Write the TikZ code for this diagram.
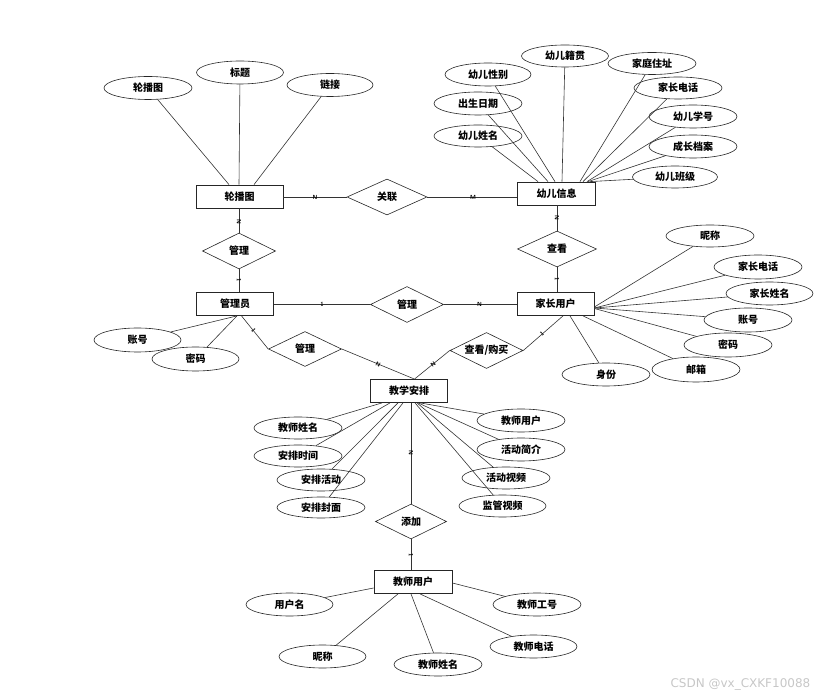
\documentclass[tikz,border=0pt]{standalone}
\usepackage{fontspec}
\newfontfamily\cjk{Noto Sans CJK SC}
\newfontfamily\wmfont{DejaVu Sans}
\usetikzlibrary{shapes.geometric}
\begin{document}
\begin{tikzpicture}[x=1pt,y=-1pt,
  every node/.style={font=\cjk\bfseries\fontsize{10}{11}\selectfont, text=black},
  ent/.style={draw=black!85, line width=0.8pt, minimum width=78pt, minimum height=23pt, inner sep=0pt},
  attr/.style={ellipse, draw=black!85, line width=0.6pt, minimum width=88pt, minimum height=23pt, inner sep=0pt},
  rel/.style={diamond, draw=black!85, line width=0.6pt, minimum width=73pt, minimum height=36pt, inner sep=0pt, aspect=2},
  lnk/.style={draw=black!80, line width=0.6pt},
  card/.style={font=\sffamily\bfseries\fontsize{6}{6}\selectfont, inner sep=0pt, sloped},
  wm/.style={font=\wmfont\fontsize{12}{13}\selectfont, text=black!22}
]
\useasboundingbox (0,0) rectangle (828,700);

% entities
\node[ent, minimum width=87pt] (lbt) at (239.5,196.5) {轮播图};
\node[ent] (yx) at (556.5,193.5) {幼儿信息};
\node[ent, minimum width=77pt] (gly) at (235,304) {管理员};
\node[ent, minimum width=77pt] (jz) at (555.5,304) {家长用户};
\node[ent, minimum width=77pt] (jxap) at (409,391) {教学安排};
\node[ent] (jsyh) at (413,582) {教师用户};

% relationships
\node[rel, minimum width=80pt] (gl) at (387,197) {关联};
\node[rel] (gl1) at (239,251) {管理};
\node[rel, minimum width=79pt] (ck) at (557,249) {查看};
\node[rel] (gl2) at (407,304.5) {管理};
\node[rel, minimum height=35pt] (gl3) at (305,349) {管理};
\node[rel] (ckgm) at (486.5,350.5) {查看/购买};
\node[rel, minimum width=71pt, minimum height=35pt] (tj) at (411,521.5) {添加};

% attributes of 轮播图
\node[attr] (lb) at (148,88) {轮播图};
\node[attr, minimum width=87pt] (bt) at (240,72.5) {标题};
\node[attr, minimum width=86pt] (lj) at (330,85) {链接};

% attributes of 幼儿信息
\node[attr, minimum width=87pt, minimum height=22pt] (yxjg) at (565,56) {幼儿籍贯};
\node[attr, minimum height=22pt] (jtzz) at (652,63.5) {家庭住址};
\node[attr, minimum height=22pt] (jzdh1) at (678,88) {家长电话};
\node[attr] (yxxh) at (693,116.5) {幼儿学号};
\node[attr] (czda) at (693,146.5) {成长档案};
\node[attr, minimum width=85pt, minimum height=22pt] (yxbj) at (675,177) {幼儿班级};
\node[attr, minimum width=86pt] (yxxb) at (488,74.5) {幼儿性别};
\node[attr] (csrq) at (478,103.5) {出生日期};
\node[attr, minimum height=22pt] (yxxm) at (478,136) {幼儿姓名};

% attributes of 家长用户
\node[attr, minimum height=22pt] (nc1) at (710,236) {昵称};
\node[attr, minimum height=24pt] (jzdh2) at (758,267) {家长电话};
\node[attr, minimum width=87pt] (jzxm) at (769.5,293.5) {家长姓名};
\node[attr, minimum height=24pt] (zh1) at (748,320) {账号};
\node[attr, minimum height=24pt] (mm1) at (728,345) {密码};
\node[attr, minimum height=25pt] (yx1) at (696,369.5) {邮箱};
\node[attr] (sf) at (606,374.5) {身份};

% attributes of 管理员
\node[attr, minimum width=87pt, minimum height=24pt] (zh2) at (137.5,340) {账号};
\node[attr, minimum width=87pt, minimum height=24pt] (mm2) at (195.5,359) {密码};

% attributes of 教学安排
\node[attr, minimum height=22pt] (jsxm1) at (298,428) {教师姓名};
\node[attr, minimum height=22pt] (apsj) at (298,456) {安排时间};
\node[attr, minimum height=22pt] (aphd) at (321,480) {安排活动};
\node[attr, minimum height=21pt] (apfm) at (321,507.5) {安排封面};
\node[attr] (jsyh1) at (521,420.5) {教师用户};
\node[attr] (hdjj) at (521,449.5) {活动简介};
\node[attr, minimum height=22pt] (hdsp) at (506,478) {活动视频};
\node[attr, minimum width=87pt, minimum height=22pt] (jgsp) at (502.5,506) {监管视频};

% attributes of 教师用户
\node[attr, minimum width=87pt] (yhm) at (289.5,604.5) {用户名};
\node[attr] (jsgh) at (537,604.5) {教师工号};
\node[attr, minimum width=87pt] (nc2) at (322.5,656.5) {昵称};
\node[attr] (jsxm2) at (438,664.5) {教师姓名};
\node[attr, minimum width=87pt] (jsdh) at (533.5,646.5) {教师电话};

% attribute connectors
\draw[lnk] (lb) -- ([xshift=-10.5pt]lbt.north);
\draw[lnk] (bt) -- ([xshift=-0.5pt]lbt.north);
\draw[lnk] (lj) -- ([xshift=14.5pt]lbt.north);

\draw[lnk] (yxxm) -- ([xshift=-18.5pt]yx.north);
\draw[lnk] (csrq) -- ([xshift=-8.5pt]yx.north);
\draw[lnk] (yxxb) -- ([xshift=-1.5pt]yx.north);
\draw[lnk] (yxjg) -- ([xshift=5.5pt]yx.north);
\draw[lnk] (jtzz) -- ([xshift=23.5pt]yx.north);
\draw[lnk] (jzdh1) -- ([xshift=26.5pt]yx.north);
\draw[lnk] (yxxh) -- ([xshift=30.5pt]yx.north);
\draw[lnk] (czda) -- ([xshift=31.5pt]yx.north);
\draw[lnk] (yxbj) -- ([xshift=33.5pt]yx.north);

\draw[lnk] (nc1) -- ([yshift=-3pt]jz.east);
\draw[lnk] (jzdh2) -- ([yshift=-4pt]jz.east);
\draw[lnk] (jzxm) -- ([yshift=-4pt]jz.east);
\draw[lnk] (zh1) -- ([yshift=-4pt]jz.east);
\draw[lnk] (mm1) -- ([yshift=-4.5pt]jz.east);
\draw[lnk] (yx1) -- ([xshift=27.5pt]jz.south);
\draw[lnk] (sf) -- ([xshift=14.5pt]jz.south);

\draw[lnk] (zh2) -- ([xshift=2pt]gly.south);
\draw[lnk] (mm2) -- ([xshift=2pt]gly.south);

\draw[lnk] (jsxm1) -- ([xshift=-27pt]jxap.south);
\draw[lnk] (apsj) -- ([xshift=-19pt]jxap.south);
\draw[lnk] (aphd) -- ([xshift=-11pt]jxap.south);
\draw[lnk] (apfm) -- ([xshift=-6pt]jxap.south);
\draw[lnk] (jgsp) -- ([xshift=6pt]jxap.south);
\draw[lnk] (hdsp) -- ([xshift=8pt]jxap.south);
\draw[lnk] (hdjj) -- ([xshift=9pt]jxap.south);
\draw[lnk] (jsyh1) -- ([xshift=11pt]jxap.south);

\draw[lnk] (yhm) -- ([yshift=-6pt]jsyh.west);
\draw[lnk] (jsgh) -- ([yshift=-1pt]jsyh.east);
\draw[lnk] (nc2) -- ([xshift=-15pt]jsyh.south);
\draw[lnk] (jsxm2) -- ([xshift=-2pt]jsyh.south);
\draw[lnk] (jsdh) -- ([xshift=7pt]jsyh.south);

% relationship connectors with cardinalities
\draw[lnk] (lbt.east |- gl.west) -- node[card, pos=0.5] (c1) {N} (gl.west);
\draw[lnk] (gl.east) -- node[card, pos=0.51] (c2) {M} (gl.east -| yx.west);
\draw[lnk] (lbt.south -| gl1.north) -- node[card, pos=0.55] (c3) {N} (gl1.north);
\draw[lnk] (gl1.south) -- node[card, pos=0.48] (c4) {1} (gl1.south |- gly.north);
\draw[lnk] (yx.south -| ck.north) -- node[card, pos=0.5] (c5) {N} (ck.north);
\draw[lnk] (ck.south) -- node[card, pos=0.48] (c6) {1} (ck.south |- jz.north);
\draw[lnk] (gly.east |- gl2.west) -- node[card, pos=0.5] (c7) {1} (gl2.west);
\draw[lnk] (gl2.east) -- node[card, pos=0.49] (c8) {N} (gl2.east -| jz.west);
\draw[lnk] ([xshift=6.5pt]gly.south) -- node[card, pos=0.45] (c9) {1} (gl3.west);
\draw[lnk] (gl3.east) -- node[card, pos=0.5] (c10) {N} ([xshift=5.5pt]jxap.north);
\draw[lnk] ([xshift=7.5pt]jz.south) -- node[card, pos=0.53] (c11) {1} (ckgm.east);
\draw[lnk] (ckgm.west) -- node[card, pos=0.47] (c12) {N} ([xshift=5.5pt]jxap.north);
\draw[lnk] ([xshift=2pt]jxap.south) -- node[card, pos=0.5] (c13) {N} (tj.north);
\draw[lnk] (tj.south) -- node[card, pos=0.5] (c14) {1} (tj.south |- jsyh.north);

% watermark
\node[wm, anchor=west] (wmk) at (667,684) {CSDN @vx\_CXKF10088};
\end{tikzpicture}
\end{document}
